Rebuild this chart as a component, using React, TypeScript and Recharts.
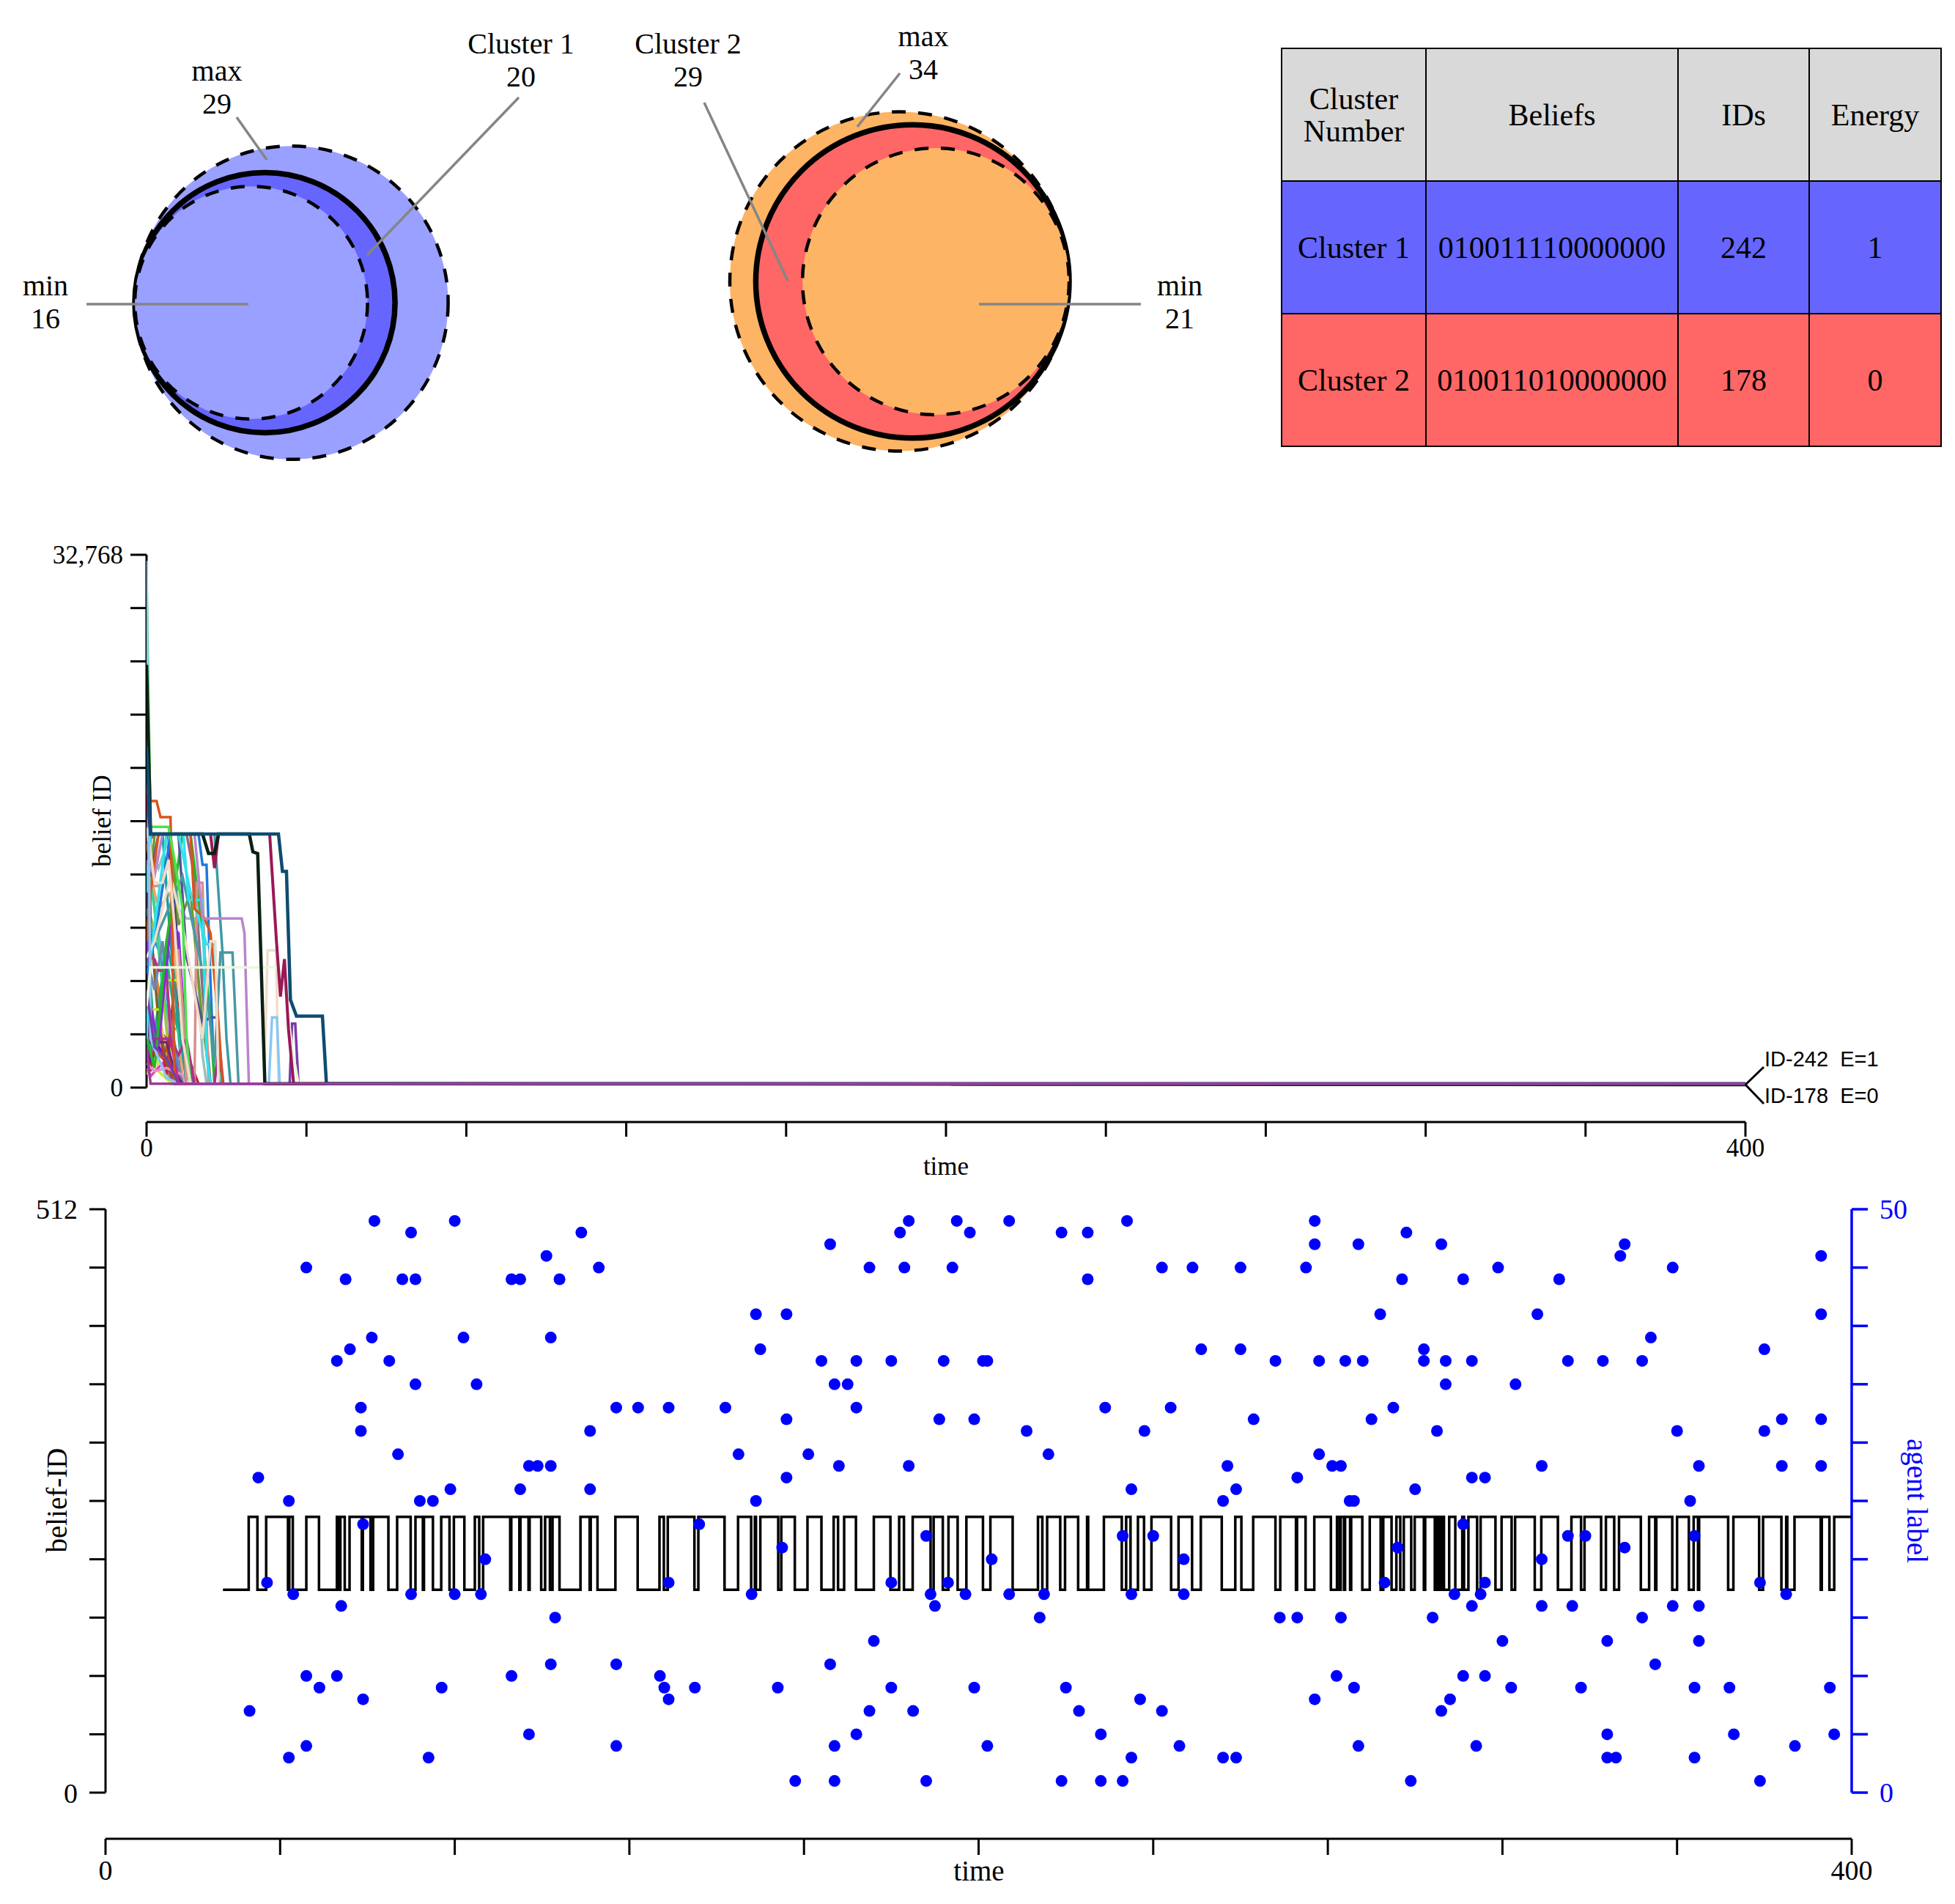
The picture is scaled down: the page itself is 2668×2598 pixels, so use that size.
import React from 'react';
import { ScatterChart, Scatter, XAxis, YAxis, LineChart, Line, ComposedChart, ReferenceLine } from 'recharts';

const SERIF = '"Liberation Serif", "Times New Roman", serif';
const SANS = '"Liberation Sans", Arial, sans-serif';

// ---------------- Venn diagrams (cluster sizes) ----------------
const cluster1Counts = [29, 20, 16]; // max, cluster, min
const cluster2Counts = [34, 29, 21]; // max, cluster, min
const cluster1Captions = ['max', 'Cluster 1', 'min'];
const cluster2Captions = ['max', 'Cluster 2', 'min'];

// ---------------- Table ----------------
const tableHeader = ['Cluster\nNumber', 'Beliefs', 'IDs', 'Energy'];
const clusterNames = ['Cluster 1', 'Cluster 2'];
const clusterBeliefs = ['010011110000000', '010011010000000'];
const clusterIds = [242, 178];
const clusterEnergies = [1, 0];
const clusterColors = ['#6666FF', '#FF6666'];

// ---------------- Middle chart: belief ID trajectories ----------------
const timeTicks = [0, 40, 80, 120, 160, 200, 240, 280, 320, 360, 400];
const timeTickLabels: Record<number, string> = { 0: '0', 400: '400' };
const beliefTicks = [0, 3276.8, 6553.6, 9830.4, 13107.2, 16384, 19660.8, 22937.6, 26214.4, 29491.2, 32768];
const beliefTickLabels: Record<number, string> = { 0: '0', 32768: '32,768' };

const track40 = [[0, 12500], [1, 9000], [3, 6000], [4, 2500], [6, 242], [400, 178]];
const track41 = [[0, 19000], [1, 14000], [2, 11000], [4, 8000], [6, 242], [400, 242]];
const track42 = [[0, 7500], [1, 10500], [3, 9000], [5, 3500], [7, 242], [400, 178]];
const track43 = [[0, 4500], [1, 3200], [4, 3300], [6, 2700], [9, 242], [400, 242]];
const track44 = [[0, 10500], [1, 15594], [5, 15594], [7, 12000], [8, 7000], [10, 242], [400, 178]];
const track45 = [[0, 5500], [1, 2000], [3, 5000], [5, 9000], [7, 6500], [9, 242], [400, 242]];
const track46 = [[0, 800], [2, 2200], [4, 3400], [6, 900], [8, 242], [400, 178]];
const track47 = [[0, 15500], [1, 13000], [3, 11000], [6, 12000], [8, 5000], [9, 242], [400, 242]];
const track48 = [[0, 2800], [1, 1600], [3, 2600], [5, 1300], [7, 242], [400, 178]];
const track49 = [[0, 25000], [1, 9500], [3, 8500], [5, 6000], [8, 242], [400, 242]];
const track01 = [[0, 3500], [1, 5800], [3, 1000], [6, 300], [8, 242], [400, 178]];
const track02 = [[0, 1200], [1, 700], [4, 1500], [6, 800], [8, 242], [400, 242]];
const track03 = [[0, 2000], [1, 1000], [3, 4000], [5, 800], [7, 6500], [9, 3000], [11, 1500], [13, 242], [400, 178]];
const track04 = [[0, 9500], [2, 3000], [5, 8000], [7, 4500], [10, 1000], [12, 242], [400, 178]];
const track05 = [[0, 5000], [2, 2300], [4, 1800], [5, 2500], [7, 500], [9, 242], [400, 242]];
const track06 = [[0, 14000], [2, 11000], [4, 6000], [6, 3800], [8, 3500], [10, 1000], [11, 242], [400, 178]];
const track07 = [[0, 22000], [1, 10000], [3, 4000], [5, 1500], [7, 242], [400, 242]];
const track08 = [[0, 8000], [2, 6000], [4, 9000], [6, 4000], [9, 242], [400, 178]];
const track09 = [[0, 1500], [2, 1000], [5, 1200], [9, 800], [10, 242], [400, 242]];
const track10 = [[0, 4000], [1, 2800], [5, 2800], [7, 1000], [9, 242], [400, 178]];
const track11 = [[0, 16500], [1, 15594], [4, 15594], [6, 9000], [8, 4000], [10, 242], [400, 242]];
const track12 = [[0, 4000], [1, 4800], [4, 4800], [5, 6600], [8, 6600], [9, 3000], [11, 242], [400, 242]];
const track13 = [[0, 27000], [1, 8000], [2, 7900], [3, 7200], [5, 7200], [6, 3000], [8, 242], [400, 178]];
const track14 = [[0, 10000], [1, 5000], [3, 2500], [6, 10000], [8, 9500], [10, 2000], [12, 242], [400, 242]];
const track15 = [[0, 15000], [2, 15594], [10, 15594], [12, 13000], [14, 6000], [16, 242], [400, 178]];
const track16 = [[0, 13000], [1, 15000], [3, 13500], [6, 15594], [8, 11000], [10, 10400], [12, 10400], [14, 2000], [15, 242], [400, 242]];
const track17 = [[0, 7000], [2, 9000], [6, 15594], [13, 15594], [14, 13700], [15, 13700], [16, 6500], [17, 242], [400, 178]];
const track18 = [[0, 3000], [2, 1200], [5, 9000], [9, 15594], [11, 15594], [14, 9600], [16, 4000], [17, 242], [400, 242]];
const track19 = [[0, 9000], [2, 15594], [6, 15594], [8, 10000], [11, 12000], [14, 4000], [16, 242], [400, 178]];
const track20 = [[0, 13000], [1, 12400], [3, 12400], [6, 14000], [7, 8440], [8, 8440], [9, 5000], [10, 242], [12, 242], [12.6, 12600], [14, 12600], [15.5, 242], [400, 242]];
const track21 = [[0, 17000], [1, 13000], [3, 15594], [8, 15594], [10, 8000], [14, 4000], [16, 4320], [17.5, 4320], [18.5, 242], [400, 242]];
const track22 = [[0, 6000], [1, 3000], [6, 3000], [8, 2000], [10, 3000], [12, 242], [17, 242], [18.2, 2700], [19.2, 242], [400, 178]];
const track23 = [[0, 20000], [1, 15594], [17, 15594], [19, 8300], [20, 3000], [21, 242], [400, 242]];
const track24 = [[0, 11000], [2, 9000], [9, 13000], [15, 6000], [17, 1500], [18.5, 8300], [21.5, 8300], [23, 242], [400, 178]];
const track25 = [[0, 12000], [1, 15594], [9.2, 15594], [10.5, 11540], [14, 11540], [15, 2000], [16, 242], [400, 242]];
const track26 = [[0, 3000], [1, 8000], [5, 15594], [8, 15594], [11, 12000], [15, 8800], [17, 8800], [18, 1000], [19, 242], [400, 178]];
const track27 = [[0, 9000], [1, 12000], [3, 15594], [11, 15594], [12, 11000], [14.5, 10400], [16, 9500], [18, 4000], [19, 242], [400, 242]];
const track28 = [[0, 8000], [2, 9000], [6, 13000], [9, 10000], [14, 3000], [16, 9000], [17.2, 9000], [18, 242], [400, 178]];
const track29 = [[0, 24000], [1, 17620], [2.5, 17620], [3.5, 16630], [6, 16630], [6.4, 10000], [7, 242], [400, 178]];
const track30 = [[0, 31400], [1, 16030], [5.5, 16030], [7, 14000], [9, 11000], [10, 3000], [11, 242], [400, 178]];
const track31 = [[0, 14000], [2, 13000], [4, 15594], [12, 15594], [14, 10400], [23.8, 10400], [24.5, 9500], [25.6, 242], [400, 242]];
const track32 = [[0, 16000], [1, 14500], [2, 12600], [4, 12600], [5.5, 14000], [7, 10000], [9, 3000], [11, 242], [29.4, 242], [30.3, 8440], [32.4, 8440], [33, 242], [400, 242]];
const track33 = [[0, 32400], [1, 3000], [5, 600], [8, 242], [30.6, 242], [31.4, 4320], [32.6, 4320], [33.3, 242], [400, 242]];
const track34 = [[0, 6000], [2, 2500], [5, 1800], [8, 242], [35.8, 242], [36.4, 3930], [37.2, 3930], [38, 242], [400, 178]];
const track35 = [[0, 5000], [1, 7390], [33, 7390], [34.5, 6300], [36.5, 2300], [38, 242], [400, 178]];
const track36 = [[0, 18000], [1, 15594], [16, 15594], [17, 13500], [18, 15594], [30.8, 15594], [32.5, 9000], [33.5, 5600], [34.5, 7900], [35.5, 3600], [36.8, 242], [400, 242]];
const track37 = [[0, 26000], [1, 15594], [14, 15594], [15.5, 14400], [17, 14400], [18, 15594], [25.7, 15594], [26.6, 14500], [27.8, 14400], [29.6, 242], [400, 178]];
const track38 = [[0, 21000], [1, 15594], [33, 15594], [34, 13300], [35, 13300], [36, 5400], [37.5, 4400], [44, 4400], [45, 242], [400, 242]];
const track39 = [[0, 2500], [1, 242], [400, 242]];

const trackList = [track40, track41, track42, track43, track44, track45, track46, track47, track48, track49,
  track01, track02, track03, track04, track05, track06, track07, track08, track09, track10,
  track11, track12, track13, track14, track15, track16, track17, track18, track19, track20,
  track21, track22, track23, track24, track25, track26, track27, track28, track29, track30,
  track31, track32, track33, track34, track35, track36, track37, track38, track39];
const trackColors = ['#E07B39', '#5BC0EB', '#9BC53D', '#C3423F', '#404080', '#2A9D8F', '#E9C46A', '#F4A261', '#7209B7', '#3A86FF',
  '#C6EE3A', '#F03CB8', '#C42038', '#22B07A', '#C84A1F', '#3CD48A', '#8A5A2A', '#6A8AB0', '#E890C8', '#6A2A7A',
  '#1AA0A0', '#B5F21F', '#C02C8C', '#8A2BE2', '#8B6A86', '#93C3BF', '#1F78DE', '#22B822', '#6E9B2E', '#D98F8A',
  '#5A4E96', '#A8338A', '#3D9AA5', '#4B97A3', '#30E0F2', '#2FE3F0', '#D9541E', '#F1DDC8', '#D9541E', '#4BE34B',
  '#BC84CB', '#F1DDC8', '#8CC6F2', '#7A3CA8', '#EAF7DF', '#9A1856', '#0B2012', '#0E4C72', '#9C3C96'];
const trackWidths = [3.5, 3.5, 3.5, 3.5, 3.5, 3.5, 3.5, 3.5, 3.5, 3.5,
  3.5, 3.5, 3.5, 3.5, 3.5, 3.5, 3.5, 3.5, 3.5, 3.5, 3.5, 3.5, 3.5, 3.5, 3.5, 3.5, 3.5, 3.5, 3.5, 3.5,
  3.5, 3.5, 3.5, 3.5, 3.5, 3.5, 3.5, 3.5, 3.5, 3.5, 3.5, 3.5, 3.5, 3.5, 3.5, 4, 4.5, 4.5, 3.5];

// ---------------- Bottom chart ----------------
const beliefLevels = [242, 178]; // high, low
const stepStartTime = 26.9;
const beliefHighIntervals = [
  [32.8, 34.8], [36.8, 41.8], [42.1, 42.9], [46.0, 48.9], [53.0, 53.25], [53.8, 54.8], [55.9, 58.7], [58.95, 60.7],
  [61.3, 64.8], [66.8, 69.9], [71.0, 72.7], [72.95, 75.0], [76.9, 78.8], [79.8, 82.2], [84.6, 85.6], [86.5, 92.7],
  [92.95, 94.8], [95.05, 96.9], [97.15, 99.8], [100.7, 101.8], [102.4, 104.0],
  [108.8, 110.9], [111.15, 112.7], [116.8, 121.9], [126.9, 127.9], [128.8, 134.9], [135.8, 141.8], [144.9, 147.9],
  [148.75, 149.0], [150.0, 154.1], [154.8, 157.9], [160.8, 164.0], [166.8, 167.8], [169.2, 171.9], [176.0, 179.8],
  [181.8, 182.9], [184.9, 189.0], [189.7, 191.8], [193.1, 195.2], [197.2, 201.0], [202.7, 207.8],
  [213.6, 214.6], [215.7, 218.7], [219.8, 222.8], [224.85, 225.1], [228.7, 232.8], [233.8, 234.8], [236.5, 237.9],
  [239.6, 244.1], [245.8, 248.9], [250.9, 255.7], [258.8, 260.2], [262.9, 268.0], [269.1, 272.7], [272.95, 274.9],
  [276.9, 280.7], [282.1, 282.7], [282.95, 283.7], [283.95, 285.1], [285.35, 287.9],
  [289.6, 292.1], [292.7, 294.6], [295.7, 296.6], [297.4, 299.1], [299.9, 302.0], [302.3, 304.5], [305.0, 305.2],
  [305.7, 305.9], [306.4, 306.6], [307.8, 309.2], [310.8, 311.2], [312.2, 314.2], [315.0, 318.4], [319.8, 322.1],
  [322.9, 327.4], [328.9, 332.7], [335.8, 338.0],
  [338.8, 342.6], [343.7, 345.6], [346.7, 351.7], [353.6, 355.0], [355.25, 358.9], [360.0, 362.7], [363.8, 364.8],
  [365.05, 371.7], [372.9, 378.8], [379.7, 383.9], [385.0, 385.25], [386.9, 392.9], [393.15, 394.9], [396.0, 400],
];
const agentDots = [
  [61.6, 49], [80, 49], [70, 48], [109, 48], [46, 45], [55, 44], [68, 44], [71, 44], [93, 44], [95, 44], [101, 46], [104, 44], [113, 45],
  [53, 37], [56, 38], [61, 39], [65, 37], [71, 35], [82, 39], [85, 35], [102, 39],
  [58.5, 33], [58.5, 31], [67, 29], [72, 25], [75, 25], [79, 26], [35, 27], [42, 25], [95, 26], [97, 28], [99, 28], [102, 28], [111, 26], [111, 31],
  [117, 33], [122, 33], [129, 33], [142, 33], [145, 29], [149, 41], [150, 38], [149, 25], [156, 41], [156, 32], [156, 27], [161, 29],
  [164, 37], [166, 47], [167, 35], [170, 35], [172, 37], [172, 33], [168, 28], [175, 45], [180, 37], [182, 48], [184, 49], [183, 45],
  [184, 28], [192, 37], [191, 32], [195, 49], [198, 48], [194, 45], [201, 37], [202, 37], [199, 32], [203, 20], [207, 49], [211, 31],
  [216, 29], [219, 48], [225, 48], [225, 44], [229, 33], [234, 49], [235, 26], [238, 31], [242, 45], [244, 33], [249, 45], [251, 38],
  [256, 25], [257, 28], [259, 26], [260, 38], [260, 45], [263, 32], [268, 37], [273, 27], [275, 45], [277, 47], [277, 49], [278, 37],
  [278, 29], [281, 28], [283, 28], [284, 37], [288, 37], [285, 25], [286, 25], [287, 47], [290, 32], [292, 41], [295, 33], [297, 44],
  [298, 48], [300, 26], [302, 38], [302, 37], [305, 31], [306, 47], [307, 35], [307, 37], [311, 44], [313, 37], [313, 27], [316, 27],
  [319, 45], [323, 35], [328, 41], [329, 28], [333, 44], [335, 37], [343, 37], [347, 46], [348, 47], [352, 37], [354, 39], [359, 45],
  [360, 31], [363, 25], [365, 28], [380, 38], [380, 31], [384, 32], [384, 28], [393, 46], [393, 41], [393, 32], [393, 28],
  [37, 18], [43, 17], [54, 16], [59, 23], [70, 17], [80, 17], [86, 17], [87, 20], [103, 15], [129, 18], [148, 17], [155, 21], [136, 23],
  [188, 22], [180, 18], [189, 17], [190, 16], [193, 18], [197, 17], [207, 17], [215, 17], [214, 15], [233, 22], [240, 22], [235, 17],
  [247, 20], [247, 17], [269, 15], [273, 15], [283, 15], [293, 18], [296, 21], [304, 15], [309, 17], [311, 23], [313, 16], [315, 17],
  [329, 20], [329, 16], [335, 22], [336, 16], [339, 22], [348, 21], [344, 13], [352, 15], [364, 22], [359, 16], [365, 16], [365, 13],
  [379, 18], [385, 17], [320, 13], [316, 18],
  [33, 7], [42, 3], [46, 4], [46, 10], [49, 9], [53, 10], [59, 8], [74, 3], [77, 9], [93, 10], [97, 5], [102, 11], [117, 4], [117, 11],
  [127, 10], [128, 9], [129, 8], [135, 9], [154, 9], [158, 1], [166, 11], [167, 4], [167, 1], [172, 5], [175, 7], [176, 13], [180, 9],
  [185, 7], [188, 1], [199, 9], [202, 4], [219, 1], [220, 9], [223, 7], [228, 5], [228, 1], [233, 1], [235, 3], [237, 8], [242, 7],
  [246, 4], [256, 3], [259, 3], [277, 8], [282, 10], [286, 9], [287, 4], [299, 1], [306, 7], [308, 8], [311, 10], [314, 4], [316, 10],
  [322, 9], [338, 9], [344, 5], [344, 3], [346, 3], [355, 11], [364, 9], [364, 3], [372, 9], [373, 5], [379, 1], [387, 4], [395, 9], [396, 5],
];
const beliefIdTicks = [0, 51.2, 102.4, 153.6, 204.8, 256, 307.2, 358.4, 409.6, 460.8, 512];
const beliefIdTickLabels: Record<number, string> = { 0: '0', 512: '512' };
const agentTicks = [0, 5, 10, 15, 20, 25, 30, 35, 40, 45, 50];
const agentTickLabels: Record<number, string> = { 0: '0', 50: '50' };

// ---------------- derived tables for the library ----------------
const R_UNIT = 39.7;
const rOf = (n: number) => R_UNIT * Math.sqrt(n);
const venn1 = cluster1Counts.map((z) => ({ x: 184 + rOf(z), y: 413, z }));
const venn2 = cluster2Counts.map((z) => ({ x: 1459 - rOf(z), y: 384, z }));
const trackData = trackList.map((tr) => tr.map(([t, v]) => ({ t, v })));
const stepData = (() => {
  const pts: { t: number; v: number }[] = [{ t: stepStartTime, v: beliefLevels[1] }];
  beliefHighIntervals.forEach(([a, b]) => {
    pts.push({ t: a, v: beliefLevels[0] });
    pts.push({ t: b, v: b >= 400 ? beliefLevels[0] : beliefLevels[1] });
  });
  return pts;
})();
const dotData = agentDots.map(([t, a]) => ({ t, a }));

const circleShape = (fill: string, stroke: string, sw: number, dash?: string) => (props: any) => {
  const z = props.payload && props.payload.z !== undefined ? props.payload.z : props.z;
  return (
    <circle cx={props.cx} cy={props.cy} r={rOf(z)} fill={fill} stroke={stroke} strokeWidth={sw} strokeDasharray={dash} />
  );
};

const dotShape = (props: any) => <circle cx={props.cx} cy={props.cy} r={8} fill="#0000FF" />;

const blackAxis = { stroke: '#000', strokeWidth: 3 };
const blueAxis = { stroke: '#0000FF', strokeWidth: 3.5 };
const DASH = '19 17';

function VennChart() {
  const light1 = '#99A0FF';
  const light2 = '#FDB464';
  return (
    <ScatterChart width={1700} height={680} margin={{ top: 0, right: 0, bottom: 0, left: 0 }}>
      <XAxis type="number" dataKey="x" domain={[0, 1700]} hide />
      <YAxis type="number" dataKey="y" domain={[0, 680]} reversed hide />
      <Scatter data={[venn1[0]]} shape={circleShape(light1, '#000', 4.5, DASH)} isAnimationActive={false} />
      <Scatter data={[venn1[1]]} shape={circleShape(clusterColors[0], '#000', 7.5)} isAnimationActive={false} />
      <Scatter data={[venn1[2]]} shape={circleShape(light1, '#000', 4.5, DASH)} isAnimationActive={false} />
      <Scatter data={[venn2[0]]} shape={circleShape(light2, '#000', 4.5, DASH)} isAnimationActive={false} />
      <Scatter data={[venn2[1]]} shape={circleShape(clusterColors[1], '#000', 7.5)} isAnimationActive={false} />
      <Scatter data={[venn2[2]]} shape={circleShape(light2, '#000', 4.5, DASH)} isAnimationActive={false} />
    </ScatterChart>
  );
}

function ClusterTable() {
  const colW = [197, 344, 179, 180];
  const cell: React.CSSProperties = {
    border: '2px solid #000', textAlign: 'center', verticalAlign: 'middle', padding: 0,
    whiteSpace: 'pre-line', lineHeight: '44px',
  };
  return (
    <table style={{ position: 'absolute', left: 1748, top: 65, width: 900, height: 543, borderCollapse: 'collapse',
      tableLayout: 'fixed', fontFamily: SERIF, fontSize: 42, color: '#000' }}>
      <colgroup>{colW.map((w, i) => <col key={i} style={{ width: w }} />)}</colgroup>
      <tbody>
        <tr style={{ height: 181, background: '#D9D9D9' }}>
          {tableHeader.map((h, i) => <td key={i} style={cell}>{h}</td>)}
        </tr>
        {clusterNames.map((n, r) => (
          <tr key={n} style={{ height: 181, background: clusterColors[r] }}>
            <td style={cell}>{n}</td>
            <td style={cell}>{clusterBeliefs[r]}</td>
            <td style={cell}>{clusterIds[r]}</td>
            <td style={cell}>{clusterEnergies[r]}</td>
          </tr>
        ))}
      </tbody>
    </table>
  );
}

function TrajectoryChart() {
  return (
    <LineChart width={2668} height={950} margin={{ top: 57, right: 286, bottom: 59, left: 80 }}>
      <XAxis type="number" dataKey="t" domain={[0, 400]} ticks={timeTicks} interval={0} height={60}
        tickFormatter={(v: number) => timeTickLabels[v] ?? ''} tickSize={20} tickMargin={2}
        axisLine={blackAxis} tickLine={blackAxis} tick={{ fontSize: 35, fill: '#000', fontFamily: SERIF }} allowDataOverflow />
      <YAxis type="number" domain={[-2118, 32768]} ticks={beliefTicks} interval={0} width={120}
        tickFormatter={(v: number) => beliefTickLabels[v] ?? ''} tickSize={22} tickMargin={10}
        axisLine={false} tickLine={blackAxis} tick={{ fontSize: 35, fill: '#000', fontFamily: SERIF }} allowDataOverflow />
      <ReferenceLine segment={[{ x: 0, y: 0 }, { x: 0, y: 32768 }]} stroke="#000" strokeWidth={3} />
      {trackData.map((d, i) => (
        <Line key={i} data={d} dataKey="v" type="linear" stroke={trackColors[i]} strokeWidth={trackWidths[i]}
          dot={false} activeDot={false} isAnimationActive={false} />
      ))}
    </LineChart>
  );
}

function AgentChart() {
  return (
    <ComposedChart width={2668} height={998} margin={{ top: 50, right: 21, bottom: 29, left: 44 }}>
      <XAxis type="number" dataKey="t" domain={[0, 400]} ticks={timeTicks} interval={0} height={60}
        tickFormatter={(v: number) => timeTickLabels[v] ?? ''} tickSize={22} tickMargin={7}
        axisLine={blackAxis} tickLine={blackAxis} tick={{ fontSize: 38, fill: '#000', fontFamily: SERIF }} allowDataOverflow />
      <YAxis yAxisId="left" type="number" domain={[-40.5, 512]} ticks={beliefIdTicks} interval={0} width={100}
        tickFormatter={(v: number) => beliefIdTickLabels[v] ?? ''} tickSize={22} tickMargin={16}
        axisLine={false} tickLine={blackAxis} tick={{ fontSize: 38, fill: '#000', fontFamily: SERIF }} allowDataOverflow />
      <YAxis yAxisId="right" orientation="right" dataKey="a" type="number" domain={[-3.957, 50]} ticks={agentTicks} interval={0} width={120}
        tickFormatter={(v: number) => agentTickLabels[v] ?? ''} tickSize={22} tickMargin={16}
        axisLine={false} tickLine={blueAxis} tick={{ fontSize: 38, fill: '#0000FF', fontFamily: SERIF }} allowDataOverflow />
      <ReferenceLine yAxisId="left" segment={[{ x: 0, y: 0 }, { x: 0, y: 512 }]} stroke="#000" strokeWidth={3} />
      <ReferenceLine yAxisId="right" segment={[{ x: 400, y: 0 }, { x: 400, y: 50 }]} stroke="#0000FF" strokeWidth={3.5} />
      <Line yAxisId="left" data={stepData} dataKey="v" type="stepAfter" stroke="#000" strokeWidth={3.5}
        dot={false} activeDot={false} isAnimationActive={false} />
      <Scatter yAxisId="right" data={dotData} dataKey="a" shape={dotShape} isAnimationActive={false} />
    </ComposedChart>
  );
}

function TwoLine({ x, y1, y2, a, b }: { x: number; y1: number; y2: number; a: string | number; b: string | number }) {
  return (
    <text x={x} y={y1} fontFamily={SERIF} fontSize={40} fill="#000" textAnchor="middle">
      <tspan x={x} y={y1}>{a}</tspan>
      <tspan x={x} y={y2}>{b}</tspan>
    </text>
  );
}

function Annotations() {
  const gray = '#858585';
  return (
    <svg width={2668} height={2598} style={{ position: 'absolute', left: 0, top: 0, pointerEvents: 'none' }}>
      {/* venn leader lines */}
      <line x1={323} y1={160} x2={364} y2={218} stroke={gray} strokeWidth={3.5} />
      <line x1={708} y1={133} x2={501} y2={348} stroke={gray} strokeWidth={3.5} />
      <line x1={118} y1={415} x2={339} y2={415} stroke={gray} strokeWidth={3.5} />
      <line x1={961} y1={140} x2={1075} y2={383} stroke={gray} strokeWidth={3.5} />
      <line x1={1228} y1={100} x2={1170} y2={173} stroke={gray} strokeWidth={3.5} />
      <line x1={1336} y1={415} x2={1557} y2={415} stroke={gray} strokeWidth={3.5} />
      {/* venn captions */}
      <TwoLine x={296} y1={110} y2={155} a={cluster1Captions[0]} b={cluster1Counts[0]} />
      <TwoLine x={711} y1={73} y2={118} a={cluster1Captions[1]} b={cluster1Counts[1]} />
      <TwoLine x={62} y1={403} y2={448} a={cluster1Captions[2]} b={cluster1Counts[2]} />
      <TwoLine x={939} y1={73} y2={118} a={cluster2Captions[1]} b={cluster2Counts[1]} />
      <TwoLine x={1260} y1={63} y2={108} a={cluster2Captions[0]} b={cluster2Counts[0]} />
      <TwoLine x={1610} y1={403} y2={448} a={cluster2Captions[2]} b={cluster2Counts[2]} />
      {/* middle chart titles */}
      <text x={139} y={1120} transform="rotate(-90 139 1120)" textAnchor="middle" dominantBaseline="central"
        fontFamily={SERIF} fontSize={35} fill="#000">belief ID</text>
      <text x={1291} y={1603} textAnchor="middle" fontFamily={SERIF} fontSize={35} fill="#000">time</text>
      <line x1={2382} y1={1480} x2={2407} y2={1456} stroke="#000" strokeWidth={3} />
      <line x1={2382} y1={1480} x2={2407} y2={1506} stroke="#000" strokeWidth={3} />
      <text x={2408} y={1455} fontFamily={SANS} fontSize={29} fill="#000" style={{ whiteSpace: 'pre' }}>
        {`ID-${clusterIds[0]}  E=${clusterEnergies[0]}`}
      </text>
      <text x={2408} y={1505} fontFamily={SANS} fontSize={29} fill="#000" style={{ whiteSpace: 'pre' }}>
        {`ID-${clusterIds[1]}  E=${clusterEnergies[1]}`}
      </text>
      {/* bottom chart titles */}
      <text x={77} y={2047} transform="rotate(-90 77 2047)" textAnchor="middle" dominantBaseline="central"
        fontFamily={SERIF} fontSize={39} fill="#000">belief-ID</text>
      <text x={1336} y={2566} textAnchor="middle" fontFamily={SERIF} fontSize={39} fill="#000">time</text>
      <text x={2616} y={2048} transform="rotate(90 2616 2048)" textAnchor="middle" dominantBaseline="central"
        fontFamily={SERIF} fontSize={39} fill="#0000FF">agent label</text>
    </svg>
  );
}

export default function App() {
  return (
    <div style={{ position: 'absolute', left: 0, top: 0, width: 2668, height: 2598, background: '#fff', overflow: 'hidden' }}>
      <div style={{ position: 'absolute', left: 0, top: 0 }}><VennChart /></div>
      <ClusterTable />
      <div style={{ position: 'absolute', left: 0, top: 700 }}><TrajectoryChart /></div>
      <div style={{ position: 'absolute', left: 0, top: 1600 }}><AgentChart /></div>
      <Annotations />
    </div>
  );
}
